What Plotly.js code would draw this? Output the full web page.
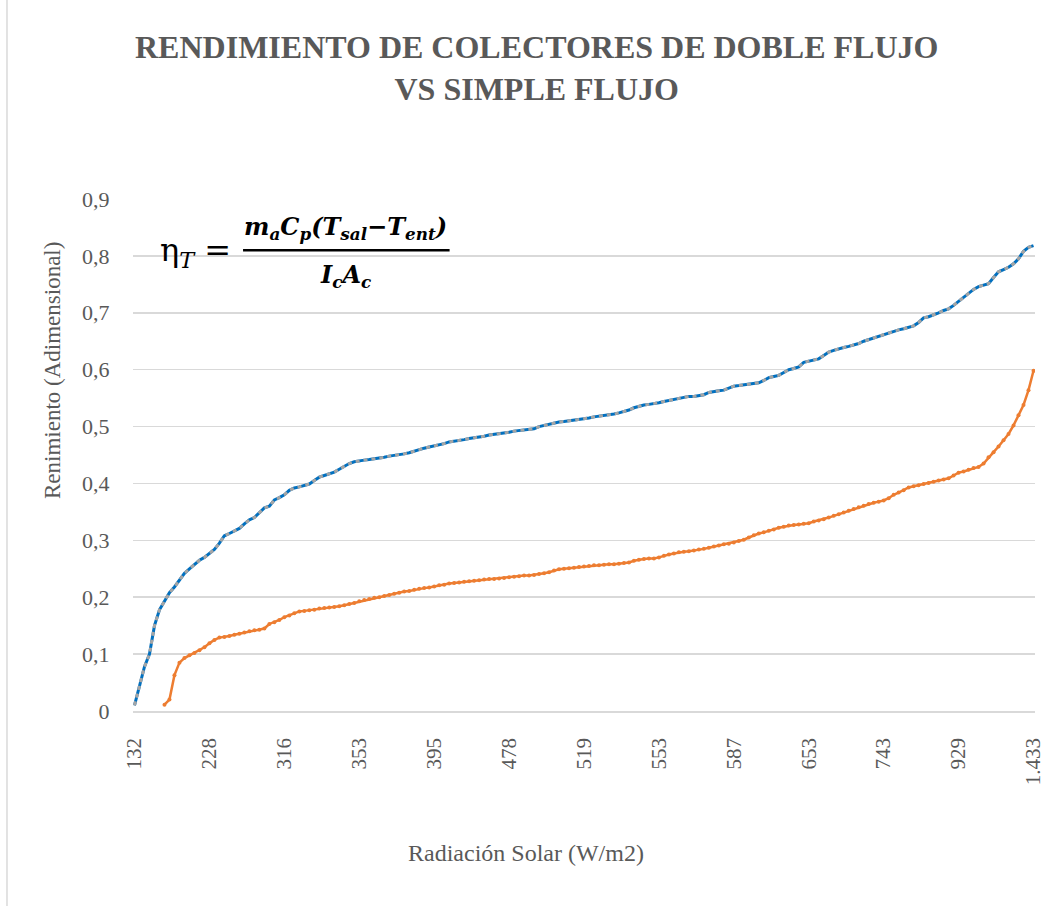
<!DOCTYPE html>
<html>
<head>
<meta charset="utf-8">
<script src="https://cdn.plot.ly/plotly-3.0.1.min.js"></script>
<style>
html,body{margin:0;padding:0;background:#fff;}
#chart{width:1056px;height:906px;}
</style>
</head>
<body>
<div id="chart"></div>
<script>
// Tick labels of the category axis (Radiación Solar, W/m2), one every 15 categories
const xTickLabels = ['132','228','316','353','395','478','519','553','587','653','743','929','1.433'];
const tickStep = 15;

// Doble flujo (blue, with grey dashed overlay)
const dobleFlujo = [
0.010,0.045,0.078,0.100,0.150,0.178,0.193,0.208,0.218,0.230,
0.242,0.250,0.257,0.265,0.270,0.277,0.284,0.295,0.308,0.312,
0.316,0.321,0.329,0.336,0.340,0.348,0.357,0.360,0.371,0.375,
0.380,0.388,0.392,0.394,0.396,0.399,0.405,0.411,0.414,0.417,
0.420,0.425,0.430,0.435,0.438,0.440,0.441,0.442,0.443,0.445,
0.446,0.448,0.449,0.451,0.452,0.454,0.457,0.460,0.462,0.464,
0.466,0.467,0.470,0.473,0.474,0.476,0.477,0.479,0.480,0.482,
0.483,0.485,0.486,0.488,0.489,0.490,0.492,0.493,0.494,0.495,
0.496,0.500,0.502,0.505,0.507,0.508,0.509,0.510,0.511,0.513,
0.514,0.515,0.517,0.518,0.519,0.520,0.522,0.524,0.526,0.529,
0.533,0.536,0.538,0.539,0.540,0.542,0.544,0.546,0.548,0.550,
0.552,0.553,0.553,0.554,0.556,0.560,0.562,0.563,0.564,0.567,
0.571,0.572,0.573,0.574,0.575,0.577,0.581,0.586,0.588,0.590,
0.595,0.600,0.602,0.605,0.613,0.615,0.617,0.619,0.625,0.631,
0.634,0.637,0.639,0.641,0.643,0.646,0.650,0.653,0.655,0.658,
0.661,0.664,0.667,0.670,0.672,0.675,0.677,0.683,0.691,0.693,
0.696,0.700,0.704,0.707,0.713,0.720,0.726,0.733,0.741,0.746,
0.748,0.751,0.762,0.772,0.776,0.780,0.786,0.795,0.808,0.815,
0.818];

// Simple flujo (orange)
const simpleFlujo = [
null,null,null,null,null,null,0.011,0.020,0.063,0.085,
0.093,0.098,0.102,0.107,0.112,0.119,0.125,0.129,0.130,0.132,
0.134,0.136,0.138,0.140,0.142,0.143,0.145,0.153,0.156,0.160,
0.165,0.168,0.172,0.175,0.176,0.177,0.178,0.180,0.181,0.182,
0.183,0.184,0.186,0.188,0.190,0.193,0.195,0.197,0.199,0.200,
0.202,0.204,0.206,0.208,0.210,0.211,0.213,0.215,0.216,0.217,
0.219,0.221,0.222,0.224,0.225,0.226,0.227,0.228,0.229,0.230,
0.231,0.232,0.232,0.233,0.234,0.235,0.236,0.237,0.238,0.238,
0.239,0.241,0.242,0.244,0.247,0.249,0.250,0.251,0.252,0.253,
0.254,0.255,0.256,0.256,0.257,0.258,0.258,0.259,0.260,0.261,
0.264,0.266,0.267,0.268,0.268,0.270,0.273,0.275,0.277,0.279,
0.280,0.281,0.282,0.284,0.285,0.287,0.289,0.291,0.293,0.294,
0.296,0.299,0.301,0.305,0.309,0.312,0.314,0.317,0.319,0.322,
0.324,0.326,0.327,0.328,0.329,0.330,0.333,0.335,0.337,0.340,
0.343,0.346,0.349,0.352,0.355,0.358,0.361,0.364,0.366,0.368,
0.370,0.374,0.380,0.384,0.388,0.393,0.395,0.397,0.399,0.401,
0.403,0.405,0.407,0.409,0.414,0.419,0.421,0.424,0.427,0.429,
0.435,0.446,0.455,0.465,0.476,0.487,0.502,0.520,0.538,0.564,
0.598];

const yTickVals = [0,0.1,0.2,0.3,0.4,0.5,0.6,0.7,0.8,0.9];
const yTickText = ['0','0,1','0,2','0,3','0,4','0,5','0,6','0,7','0,8','0,9'];

const idx = dobleFlujo.map((_, i) => i);
const xTickVals = xTickLabels.map((_, i) => i * tickStep);

const serif = 'Liberation Serif, Times New Roman, serif';
const txt = '#595959';

const traces = [
  {x: idx, y: simpleFlujo, type: 'scatter', mode: 'lines+markers',
   line: {color: '#ED7D31', width: 2.5}, marker: {color: '#ED7D31', size: 4},
   connectgaps: false, hoverinfo: 'skip'},
  {x: idx, y: dobleFlujo, type: 'scatter', mode: 'lines',
   line: {color: '#0070C0', width: 3}, hoverinfo: 'skip'},
  {x: idx, y: dobleFlujo, type: 'scatter', mode: 'lines',
   line: {color: '#A5A5A5', width: 3, dash: '4px,4px'}, hoverinfo: 'skip'}
];

const eqFont = {family: 'DejaVu Serif, serif', size: 24, color: '#000'};

const layout = {
  width: 1056, height: 906,
  paper_bgcolor: '#fff', plot_bgcolor: '#fff',
  showlegend: false,
  margin: {l: 133, r: 21, t: 199, b: 195},
  xaxis: {
    range: [-0.3, idx.length - 1 + 0.3],
    tickmode: 'array', tickvals: xTickVals, ticktext: xTickLabels,
    tickangle: -90, tickfont: {family: serif, size: 21, color: txt},
    ticks: 'outside', ticklen: 17, tickcolor: 'rgba(0,0,0,0)',
    showgrid: false, zeroline: false,
    showline: true, linecolor: '#D9D9D9', linewidth: 1.5
  },
  yaxis: {
    range: [0, 0.9],
    tickmode: 'array', tickvals: yTickVals, ticktext: yTickText,
    tickfont: {family: serif, size: 22, color: txt},
    ticks: 'outside', ticklen: 18, tickcolor: 'rgba(0,0,0,0)',
    showgrid: true, gridcolor: '#D9D9D9', gridwidth: 1.5,
    zeroline: false, showline: false
  },
  shapes: [
    {type: 'line', xref: 'paper', yref: 'paper', x0: 0.122, x1: 0.351, y0: 0.900, y1: 0.900,
     line: {color: '#000', width: 2.5}},
    {type: 'line', xref: 'paper', yref: 'paper', x0: -0.1397, x1: -0.1397, y0: -0.45, y1: 1.45,
     line: {color: '#D9D9D9', width: 1.5}}
  ],
  annotations: [
    {xref: 'paper', yref: 'paper', x: 0.447, y: 1.256, xanchor: 'center', yanchor: 'middle', showarrow: false,
     text: '<b>RENDIMIENTO DE COLECTORES DE DOBLE FLUJO<br>VS SIMPLE FLUJO</b>',
     font: {family: serif, size: 32, color: txt}},
    {xref: 'paper', yref: 'paper', x: 0.436, y: -0.277, xanchor: 'center', yanchor: 'middle', showarrow: false,
     text: 'Radiación Solar (W/m2)', font: {family: serif, size: 24, color: txt}},
    {xref: 'paper', yref: 'paper', x: -0.0898, y: 0.664, xanchor: 'center', yanchor: 'middle', showarrow: false,
     textangle: -90, text: 'Renimiento (Adimensional)', font: {family: serif, size: 23, color: txt}},
    {xref: 'paper', yref: 'paper', x: 0.028, y: 0.897, xanchor: 'left', yanchor: 'middle', showarrow: false,
     text: 'η<sub><i>T</i></sub> =', font: {family: 'DejaVu Serif, serif', size: 32, color: '#000'}},
    {xref: 'paper', yref: 'paper', x: 0.236, y: 0.908, xanchor: 'center', yanchor: 'bottom', showarrow: false,
     text: '<b><i>m<sub>a</sub>C<sub>p</sub>(T<sub>sal</sub>−T<sub>ent</sub>)</i></b>', font: eqFont},
    {xref: 'paper', yref: 'paper', x: 0.236, y: 0.884, xanchor: 'center', yanchor: 'top', showarrow: false,
     text: '<b><i>I<sub>c</sub>A<sub>c</sub></i></b>', font: eqFont}
  ]
};

Plotly.newPlot('chart', traces, layout, {displayModeBar: false, staticPlot: true});
</script>
</body>
</html>
